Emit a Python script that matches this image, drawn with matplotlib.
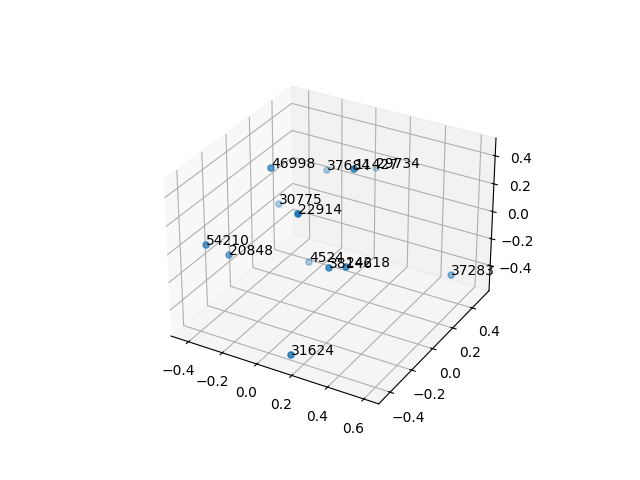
import matplotlib
matplotlib.use("Agg")
import matplotlib.pyplot as plt

labels = ["46998", "37684", "11427", "29734", "30775", "22914", "54210", "20848",
          "4524", "38146", "24218", "37283", "31624"]
x = [-0.190, -0.110, 0.207, 0.080, -0.279, 0.091, -0.371, -0.309, -0.073, 0.200, 0.292, 0.629, 0.167]
y = [-0.077, 0.296, 0.037, 0.452, 0.117, -0.271, -0.371, -0.273, 0.070, -0.174, -0.168, 0.262, -0.458]
z = [0.438, 0.213, 0.491, 0.192, 0.025, 0.343, 0.028, -0.090, -0.296, -0.063, -0.026, -0.265, -0.491]

x_ticks = [-0.4, -0.2, 0.0, 0.2, 0.4, 0.6]
y_ticks = [-0.4, -0.2, 0.0, 0.2, 0.4]
z_ticks = [-0.4, -0.2, 0.0, 0.2, 0.4]

fig = plt.figure(figsize=(6.4, 4.8), dpi=100)
ax = fig.add_subplot(projection="3d")
ax.scatter(x, y, z)
for xi, yi, zi, lab in zip(x, y, z, labels):
    ax.text(xi, yi, zi, lab)

ax.set_xlim(-0.504, 0.681, view_margin=0)
ax.set_ylim(-0.503, 0.578, view_margin=0)
ax.set_zlim(-0.591, 0.525, view_margin=0)
ax.set_xticks(x_ticks)
ax.set_yticks(y_ticks)
ax.set_zticks(z_ticks)

fig.savefig("out.png", dpi=100)
